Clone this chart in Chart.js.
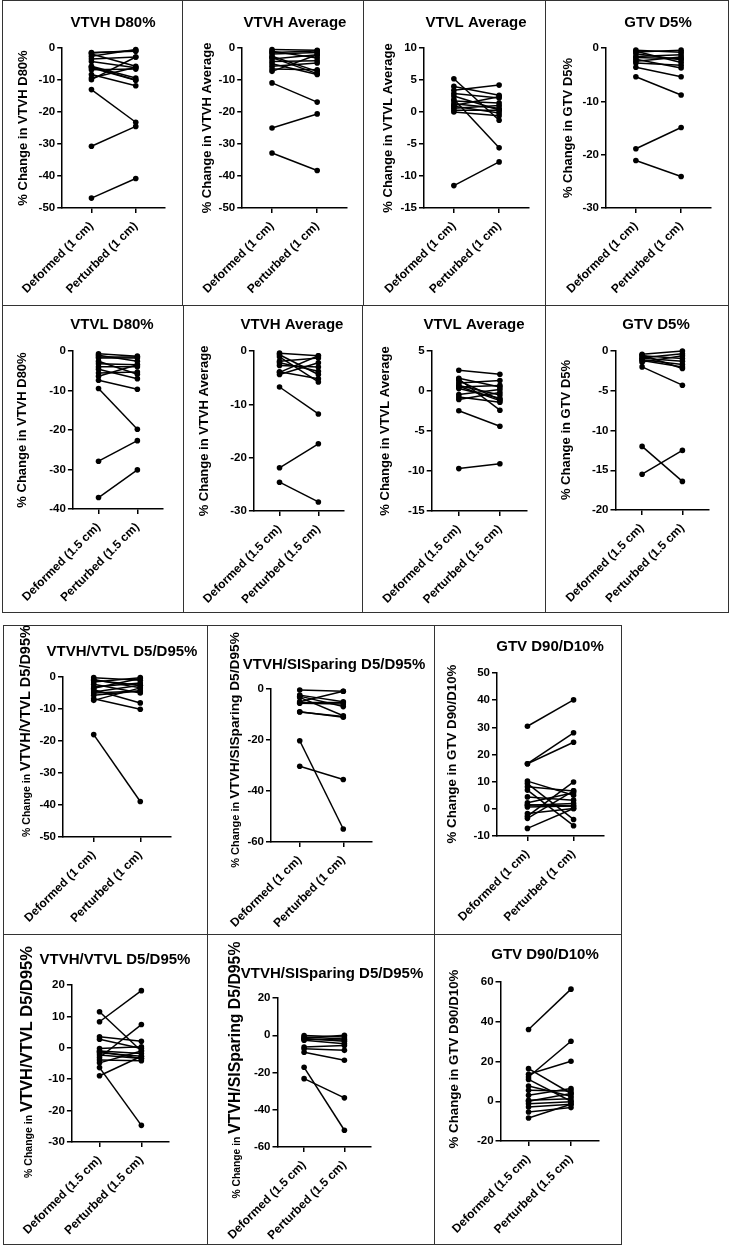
<!DOCTYPE html>
<html>
<head>
<meta charset="utf-8">
<title>Dose change panels</title>
<script src="https://cdn.jsdelivr.net/npm/chart.js@4.4.1/dist/chart.umd.min.js"></script>
<style>
    body {
        margin: 0;
        background: #ffffff;
    }

    #figure {
        position: relative;
        width: 730px;
        height: 1246px;
        overflow: hidden;
    }

    .panel-box {
        position: absolute;
        box-sizing: border-box;
        border: 1.5px solid #333333;
    }

    .panel-canvas {
        position: absolute;
    }
</style>
</head>
<body>
<div id="figure"></div>
<script>

const cats1cm = ["Deformed (1 cm)", "Perturbed (1 cm)"];
const cats15cm = ["Deformed (1.5 cm)", "Perturbed (1.5 cm)"];

// row 1, 1 cm
const vtvhD80Ticks1 = [-50, -40, -30, -20, -10, 0];
const vtvhD80Def1 = [-1.4, -1.9, -2.6, -3.4, -4.2, -5.7, -6.2, -6.8, -8.3, -9.4, -9.9, -13.0, -30.7, -46.9, -1.6, -5.9];
const vtvhD80Per1 = [-1.0, -5.7, -0.5, -2.8, -6.2, -9.4, -10.1, -6.6, -11.8, -6.0, -2.8, -23.2, -24.5, -40.8, -0.8, -10.0];

const vtvhAvgTicks1 = [-50, -40, -30, -20, -10, 0];
const vtvhAvgDef1 = [-0.5, -1.0, -1.9, -2.6, -3.4, -4.2, -4.9, -5.7, -6.6, -7.3, -10.9, -25.0, -32.8, -1.4, -3.0];
const vtvhAvgPer1 = [-0.7, -3.1, -1.4, -7.3, -2.1, -4.0, -8.3, -4.7, -6.8, -2.1, -16.9, -20.6, -38.3, -0.9, -8.0];

const vtvlAvgTicks1 = [-15, -10, -5, 0, 5, 10];
const vtvlAvgDef1 = [5.2, 4.0, 3.4, 2.9, 2.0, 1.7, 1.3, 0.9, 0.6, 0.26, 0.0, -11.5, 1.0, 2.5];
const vtvlAvgPer1 = [-1.3, 2.6, 4.2, 2.2, -5.6, 1.4, 0.6, -0.15, 1.0, 0.26, -0.57, -7.8, 2.4, 0.3];

const gtvD5Ticks1 = [-30, -20, -10, 0];
const gtvD5Def1 = [-0.4, -0.75, -1.1, -1.6, -2.1, -2.5, -2.8, -3.6, -5.4, -18.9, -21.1, -0.6, -1.8];
const gtvD5Per1 = [-0.8, -0.4, -2.2, -1.25, -3.75, -1.7, -3.25, -5.4, -8.8, -14.9, -24.1, -2.7, -2.0];

// row 2, 1.5 cm
const vtvlD80Ticks15 = [-40, -30, -20, -10, 0];
const vtvlD80Def15 = [-0.7, -1.1, -1.8, -2.6, -3.2, -4.0, -4.6, -5.6, -6.4, -7.4, -9.5, -27.9, -37.1, -1.5];
const vtvlD80Per15 = [-1.3, -2.6, -1.8, -5.9, -3.5, -4.0, -7.0, -5.3, -3.5, -9.7, -19.8, -22.7, -30.1, -1.5];

const vtvhAvgTicks15 = [-30, -20, -10, 0];
const vtvhAvgDef15 = [-0.4, -0.7, -1.1, -1.9, -2.7, -3.9, -4.4, -6.75, -21.9, -24.6, -2.2, -4.0];
const vtvhAvgPer15 = [-0.9, -4.4, -5.8, -1.3, -3.0, -5.2, -2.2, -11.8, -17.4, -28.3, -3.8, -0.9];

const vtvlAvgTicks15 = [-15, -10, -5, 0, 5];
const vtvlAvgDef15 = [2.6, 1.6, 1.3, 1.0, 0.7, 0.5, 0.3, -0.45, -0.75, -1.05, -2.46, -9.7, 1.5, 0.6];
const vtvlAvgPer15 = [2.1, 0.5, -1.1, 1.3, -0.5, 0.7, -0.9, 0.2, -1.4, -0.2, -4.4, -9.1, -2.4, -1.2];

const gtvD5Ticks15 = [-20, -15, -10, -5, 0];
const gtvD5Def15 = [-0.4, -0.6, -0.85, -1.1, -1.4, -2.0, -12.0, -15.5, -0.5, -0.9, -1.2];
const gtvD5Per15 = [0.0, -0.95, -0.35, -1.7, -0.6, -4.3, -16.4, -12.5, -2.2, -1.3, -2.0];

// row 3, ratios 1 cm
const hlRatioTicks1 = [-50, -40, -30, -20, -10, 0];
const hlRatioDef1 = [-0.2, -0.8, -1.6, -2.3, -3.1, -4.0, -4.7, -5.7, -6.8, -7.3, -18.0, -1.0, -3.5, -5.0];
const hlRatioPer1 = [-1.0, -3.4, -0.2, -5.0, -1.9, -8.1, -2.6, -4.4, -10.1, -3.4, -38.9, -2.6, -0.5, -4.4];

const hsRatioTicks1 = [-60, -40, -20, 0];
const hsRatioDef1 = [-0.4, -2.4, -3.3, -5.0, -5.6, -8.9, -20.3, -30.3, -2.8, -9.0, -5.3];
const hsRatioPer1 = [-0.9, -5.0, -10.5, -0.9, -5.9, -11.1, -54.9, -35.5, -6.9, -10.8, -5.3];

const gtvRatioTicks1 = [-10, 0, 10, 20, 30, 40, 50];
const gtvRatioDef1 = [30.4, 16.6, 16.6, 10.2, 9.3, 8.1, 6.9, 4.4, 2.2, 1.3, 0.7, -1.7, -2.7, -3.5, -7.2, 1.5];
const gtvRatioPer1 = [40.1, 28.0, 24.5, 5.0, -3.9, 6.6, -6.2, 3.2, 5.9, 2.0, 1.0, 0.1, 9.9, 6.6, 0.1, 1.0];

// row 4, ratios 1.5 cm
const hlRatioTicks15 = [-30, -20, -10, 0, 10, 20];
const hlRatioDef15 = [11.5, 8.3, 3.5, 2.7, -0.2, -1.0, -1.6, -2.3, -3.1, -3.9, -4.8, -6.3, -8.9, -1.2];
const hlRatioPer15 = [-1.0, 18.2, 2.1, -0.2, 0.3, -1.8, -2.7, -3.4, 7.4, -4.1, -1.0, -24.7, -2.7, -3.4];

const hsRatioTicks15 = [-60, -40, -20, 0, 20];
const hsRatioDef15 = [-0.2, -0.9, -1.8, -2.7, -6.3, -7.3, -9.1, -17.2, -23.3, -1.5, -2.2];
const hsRatioPer15 = [-0.9, -2.0, -3.2, -4.5, -5.5, -8.1, -13.4, -51.0, -33.6, 0.0, -2.5];

const gtvRatioTicks15 = [-20, 0, 20, 40, 60];
const gtvRatioDef15 = [36.1, 16.4, 13.6, 12.2, 7.7, 5.5, 3.0, 0.5, -1.2, -2.9, -5.4, -8.4, 11.0, 0.0];
const gtvRatioPer15 = [56.4, 3.9, 20.1, 30.2, 2.5, 5.2, 6.4, 1.3, -0.3, -1.5, -3.2, -1.5, 0.0, 3.9];


const FONT = "'Liberation Sans', Arial, Helvetica, sans-serif";

// box = panel frame, plot = axis corner positions, all in page pixels
const panels = [
    {
        box: [2, 0, 181, 306], plot: [60, 48, 165, 208],
        title: "VTVH D80%", titlePos: [113, 23],
        yTitle: [["% Change in VTVH D80%", 13]], yTitlePos: [22, 128],
        cats: cats1cm, ticks: vtvhD80Ticks1, def: vtvhD80Def1, per: vtvhD80Per1
    },
    {
        box: [182, 0, 182, 306], plot: [242, 48, 347, 208],
        title: "VTVH Average", titlePos: [295, 23],
        yTitle: [["% Change in VTVH Average", 13]], yTitlePos: [206, 128],
        cats: cats1cm, ticks: vtvhAvgTicks1, def: vtvhAvgDef1, per: vtvhAvgPer1
    },
    {
        box: [363, 0, 183, 306], plot: [424, 48, 529, 208],
        title: "VTVL Average", titlePos: [476, 23],
        yTitle: [["% Change in VTVL Average", 13]], yTitlePos: [387, 128],
        cats: cats1cm, ticks: vtvlAvgTicks1, def: vtvlAvgDef1, per: vtvlAvgPer1
    },
    {
        box: [545, 0, 184, 306], plot: [606, 48, 711, 208],
        title: "GTV D5%", titlePos: [658, 23],
        yTitle: [["% Change in GTV D5%", 13]], yTitlePos: [567, 128],
        cats: cats1cm, ticks: gtvD5Ticks1, def: gtvD5Def1, per: gtvD5Per1
    },
    {
        box: [2, 305, 182, 308], plot: [60, 351, 163, 509],
        title: "VTVL D80%", titlePos: [112, 325],
        yTitle: [["% Change in VTVH D80%", 13]], yTitlePos: [21, 430],
        cats: cats15cm, ticks: vtvlD80Ticks15, def: vtvlD80Def15, per: vtvlD80Per15
    },
    {
        box: [183, 305, 180, 308], plot: [241, 351, 344, 511],
        title: "VTVH Average", titlePos: [292, 325],
        yTitle: [["% Change in VTVH Average", 13]], yTitlePos: [203, 431],
        cats: cats15cm, ticks: vtvhAvgTicks15, def: vtvhAvgDef15, per: vtvhAvgPer15
    },
    {
        box: [362, 305, 184, 308], plot: [421, 351, 527, 511],
        title: "VTVL Average", titlePos: [474, 325],
        yTitle: [["% Change in VTVL Average", 13]], yTitlePos: [384, 431],
        cats: cats15cm, ticks: vtvlAvgTicks15, def: vtvlAvgDef15, per: vtvlAvgPer15
    },
    {
        box: [545, 305, 184, 308], plot: [605, 351, 709, 510],
        title: "GTV D5%", titlePos: [656, 325],
        yTitle: [["% Change in GTV D5%", 13]], yTitlePos: [565, 430],
        cats: cats15cm, ticks: gtvD5Ticks15, def: gtvD5Def15, per: gtvD5Per15
    },
    {
        box: [3, 625, 205, 310], plot: [63, 677, 171, 837],
        title: "VTVH/VTVL D5/D95%", titlePos: [122, 652],
        yTitle: [["% Change in ", 10.5], ["VTVH/VTVL D5/D95%", 14.5]], yTitlePos: [25, 731],
        cats: cats1cm, ticks: hlRatioTicks1, def: hlRatioDef1, per: hlRatioPer1
    },
    {
        box: [207, 625, 228, 310], plot: [271, 689, 372, 842],
        title: "VTVH/SISparing D5/D95%", titlePos: [334, 665],
        yTitle: [["% Change in ", 11], ["VTVH/SISparing D5/D95%", 13.7]], yTitlePos: [234, 750],
        cats: cats1cm, ticks: hsRatioTicks1, def: hsRatioDef1, per: hsRatioPer1
    },
    {
        box: [434, 625, 188, 310], plot: [497, 673, 604, 836],
        title: "GTV D90/D10%", titlePos: [550, 647],
        yTitle: [["% Change in GTV D90/D10%", 13.3]], yTitlePos: [451, 754],
        cats: cats1cm, ticks: gtvRatioTicks1, def: gtvRatioDef1, per: gtvRatioPer1
    },
    {
        box: [3, 934, 205, 311], plot: [61, 985, 169, 1142],
        title: "VTVH/VTVL D5/D95%", titlePos: [115, 960],
        yTitle: [["% Change in ", 10.5], ["VTVH/VTVL D5/D95%", 16.5]], yTitlePos: [26, 1062],
        cats: cats15cm, ticks: hlRatioTicks15, def: hlRatioDef15, per: hlRatioPer15
    },
    {
        box: [207, 934, 228, 311], plot: [267, 998, 371, 1147],
        title: "VTVH/SISparing D5/D95%", titlePos: [332, 974],
        yTitle: [["% Change in ", 10.3], ["VTVH/SISparing D5/D95%", 15.8]], yTitlePos: [234, 1070],
        cats: cats15cm, ticks: hsRatioTicks15, def: hsRatioDef15, per: hsRatioPer15
    },
    {
        box: [434, 934, 188, 311], plot: [485, 982, 599, 1141],
        title: "GTV D90/D10%", titlePos: [545, 955],
        yTitle: [["% Change in GTV D90/D10%", 13.3]], yTitlePos: [453, 1059],
        cats: cats15cm, ticks: gtvRatioTicks15, def: gtvRatioDef15, per: gtvRatioPer15
    }
];

const X_MIN = -0.66;
const X_MAX = 1.66;


const panelTextPlugin = {

    id: "panelText",

    afterDraw(chart, args, opts) {

        const ctx = chart.ctx;

        ctx.save();
        ctx.fillStyle = "#000000";

        ctx.font = "bold 15px " + FONT;
        ctx.textAlign = "center";
        ctx.textBaseline = "middle";
        ctx.fillText(opts.title, opts.titleX, opts.titleY);

        // rotated y title, may mix two font sizes on one baseline
        let total = 0;
        let biggest = 0;

        opts.yParts.forEach(part => {
            ctx.font = "bold " + part[1] + "px " + FONT;
            total += ctx.measureText(part[0]).width;
            biggest = Math.max(biggest, part[1]);
        });

        ctx.translate(opts.yTitleX, opts.yTitleY);
        ctx.rotate(-Math.PI / 2);
        ctx.textAlign = "left";
        ctx.textBaseline = "alphabetic";

        let pos = -total / 2;
        const base = biggest * 0.36;

        opts.yParts.forEach(part => {
            ctx.font = "bold " + part[1] + "px " + FONT;
            ctx.fillText(part[0], pos, base);
            pos += ctx.measureText(part[0]).width;
        });

        ctx.restore();

    }

};


function buildDatasets(def, per) {

    return def.map((value, i) => ({
        data: [
            { x: 0, y: value },
            { x: 1, y: per[i] }
        ],
        showLine: true,
        borderColor: "#000000",
        backgroundColor: "#000000",
        borderWidth: 1.5,
        pointRadius: 2.8,
        pointBorderWidth: 0,
        clip: false
    }));

}


function axisLook() {

    return {
        grid: {
            display: true,
            drawOnChartArea: false,
            drawTicks: true,
            tickLength: 5,
            color: "#000000",
            lineWidth: 1.5
        },
        border: {
            display: true,
            color: "#000000",
            width: 1.5
        }
    };

}


function makePanel(p) {

    const figure = document.getElementById("figure");
    const [bx, by, bw, bh] = p.box;
    const [left, top, right, bottom] = p.plot;

    const frame = document.createElement("div");
    frame.className = "panel-box";
    frame.style.left = bx + "px";
    frame.style.top = by + "px";
    frame.style.width = bw + "px";
    frame.style.height = bh + "px";
    figure.appendChild(frame);

    const canvas = document.createElement("canvas");
    canvas.className = "panel-canvas";
    canvas.width = bw;
    canvas.height = bh;
    canvas.style.left = bx + "px";
    canvas.style.top = by + "px";
    canvas.style.width = bw + "px";
    canvas.style.height = bh + "px";
    figure.appendChild(canvas);

    const xLook = axisLook();
    const yLook = axisLook();

    new Chart(canvas, {

        type: "scatter",

        data: {
            datasets: buildDatasets(p.def, p.per)
        },

        plugins: [panelTextPlugin],

        options: {

            responsive: false,
            animation: false,
            events: [],

            layout: {
                padding: {
                    left: 0,
                    top: top - by,
                    right: bx + bw - right,
                    bottom: 0
                }
            },

            plugins: {
                legend: { display: false },
                tooltip: { enabled: false },
                panelText: {
                    title: p.title,
                    titleX: p.titlePos[0] - bx,
                    titleY: p.titlePos[1] - by,
                    yParts: p.yTitle,
                    yTitleX: p.yTitlePos[0] - bx,
                    yTitleY: p.yTitlePos[1] - by
                }
            },

            scales: {

                x: {
                    type: "linear",
                    min: X_MIN,
                    max: X_MAX,
                    afterBuildTicks: scale => {
                        scale.ticks = p.cats.map((c, i) => ({ value: i }));
                    },
                    afterFit: scale => {
                        scale.height = by + bh - bottom;
                    },
                    ticks: {
                        callback: value => p.cats[value],
                        minRotation: 45,
                        maxRotation: 45,
                        autoSkip: false,
                        padding: 6,
                        color: "#000000",
                        font: { family: FONT, size: 12, weight: "bold" }
                    },
                    grid: xLook.grid,
                    border: xLook.border
                },

                y: {
                    type: "linear",
                    min: Math.min(...p.ticks),
                    max: Math.max(...p.ticks),
                    afterBuildTicks: scale => {
                        scale.ticks = p.ticks.map(v => ({ value: v }));
                    },
                    afterFit: scale => {
                        scale.width = left - bx;
                    },
                    ticks: {
                        padding: 2,
                        color: "#000000",
                        font: { family: FONT, size: 11.5, weight: "bold" }
                    },
                    grid: yLook.grid,
                    border: yLook.border
                }

            }

        }

    });

}


panels.forEach(makePanel);

</script>
</body>
</html>
